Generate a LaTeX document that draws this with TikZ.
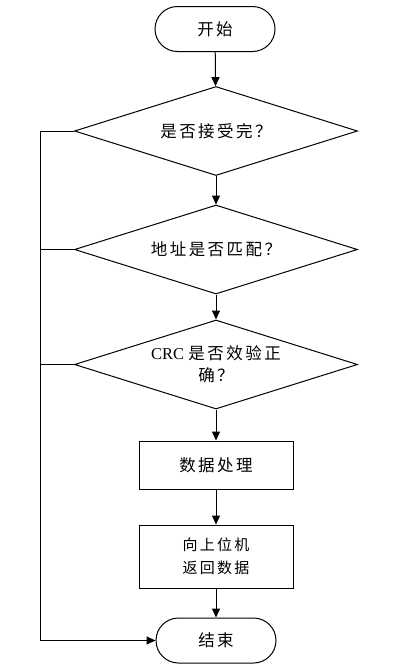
\documentclass[tikz,border=0pt]{standalone}
\usepackage{fontspec}
\setmainfont{Liberation Serif}
\newfontfamily\cjk[LetterSpace=15]{Noto Sans CJK SC}
\usetikzlibrary{shapes.geometric,arrows.meta}

\begin{document}
\begin{tikzpicture}[x=1pt,y=-1pt,
		terminal/.style={draw,rectangle,rounded corners=22.5pt,minimum width=120pt,minimum height=45pt,font=\cjk\fontsize{16.5}{22}\selectfont},
		decision/.style={draw,diamond,aspect=3.18,inner sep=0pt,minimum width=283pt,minimum height=89pt,align=center,font=\fontsize{16.5}{22}\selectfont},
		process/.style={draw,rectangle,minimum width=154pt,align=center,font=\cjk\fontsize{16.5}{23}\selectfont},
		line/.style={black,line width=1pt},
		arr/.style={line,-{Triangle[length=9pt,width=8pt]}},
		every node/.style={line width=1pt}]
		\useasboundingbox (0,0) rectangle (401,667);
		\node[terminal] (start) at (215,29) {开始};
		\node[decision] (d1) at (216,131) {\cjk 是否接受完？};
		\node[decision] (d2) at (216,249.5) {\cjk 地址是否匹配？};
		\node[decision] (d3) at (216,364.5) {CRC {\cjk 是否效验正}\\{\cjk 确？}};
		\node[process,minimum height=48pt] (proc) at (216,465) {数据处理};
		\node[process,minimum height=63pt,font=\cjk\fontsize{15}{23}\selectfont] (send) at (216,556.5) {向上位机\\返回数据};
		\node[terminal] (stop) at (216,640.5) {结束};
		\draw [arr] (start) -- (d1);
		\draw [arr] (d1) -- (d2);
		\draw [arr] (d2) -- (d3);
		\draw [arr] (d3) -- (proc);
		\draw [arr] (proc) -- (send);
		\draw [arr] (send) -- (stop);
		\coordinate (lt) at (40,131);
		\draw [arr] (d1.west) -- (lt) |- (stop.west);
		\draw [line] (d2.west) -- (d2.west -| lt);
		\draw [line] (d3.west) -- (d3.west -| lt);
\end{tikzpicture}
\end{document}
